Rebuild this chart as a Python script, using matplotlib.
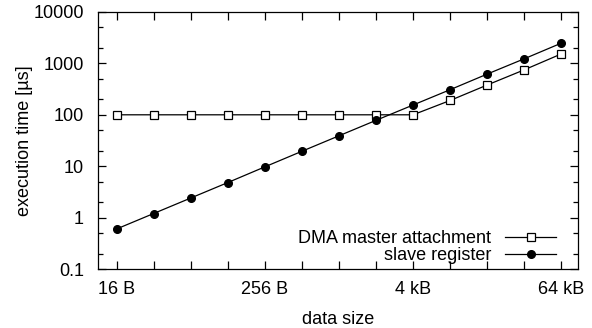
import matplotlib
matplotlib.use("Agg")
import matplotlib.pyplot as plt
import matplotlib.ticker as mticker

plt.rcParams['font.family'] = ['Liberation Sans', 'DejaVu Sans']

# data sizes in bytes
sizes = [16, 32, 64, 128, 256, 512, 1024, 2048, 4096, 8192, 16384, 32768, 65536]
dma = [100, 100, 100, 100, 100, 100, 100, 100, 100, 190, 380, 750, 1530]
slave = [0.6, 1.2, 2.4, 4.8, 9.7, 19.5, 39, 78, 155, 308, 620, 1230, 2480]

xtick_pos = [16, 256, 4096, 65536]
xtick_labels = ['16 B', '256 B', '4 kB', '64 kB']

fig = plt.figure(figsize=(5.92, 3.28), dpi=100)
ax = fig.add_axes([98/592, 1 - 269/328, 480/592, 257/328])

ax.plot(sizes, dma, color='black', lw=0.9, marker='s', ms=5.5,
        mfc='white', mec='black', mew=0.9, label='DMA master attachment')
ax.plot(sizes, slave, color='black', lw=0.9, marker='o', ms=5.5,
        mfc='black', mec='black', label='slave register')

ax.set_xscale('log', base=2)
ax.set_yscale('log')
ax.set_xlim(2**3.5, 2**16.45)
ax.set_ylim(0.1, 10000)

ax.xaxis.set_major_locator(mticker.FixedLocator(xtick_pos))
ax.xaxis.set_major_formatter(mticker.FixedFormatter(xtick_labels))
ax.xaxis.set_minor_locator(mticker.FixedLocator(sizes))
ax.xaxis.set_minor_formatter(mticker.NullFormatter())

ax.yaxis.set_major_locator(mticker.FixedLocator([0.1, 1, 10, 100, 1000, 10000]))
ax.yaxis.set_major_formatter(mticker.FixedFormatter(['0.1', '1', '10', '100', '1000', '10000']))
ax.yaxis.set_minor_locator(mticker.LogLocator(base=10, subs=(2.0, 5.0)))
ax.yaxis.set_minor_formatter(mticker.NullFormatter())

ax.tick_params(which='both', direction='in', top=True, right=True,
               labelsize=13, width=0.9)
ax.tick_params(axis='x', which='both', pad=9)
ax.tick_params(axis='y', which='both', pad=10)
ax.tick_params(which='major', length=6)
ax.tick_params(axis='x', which='minor', length=6)
ax.tick_params(axis='y', which='minor', length=3.5)

for sp in ax.spines.values():
    sp.set_linewidth(0.9)

ax.set_xlabel('data size', fontsize=13, labelpad=9)
ax.set_ylabel('execution time [µs]', fontsize=13)
ax.yaxis.set_label_coords(-0.135, 0.5)

ax.legend(loc='lower right', bbox_to_anchor=(0.954, 0.02), frameon=False,
          markerfirst=False, fontsize=13, handlelength=2.8,
          handletextpad=0.8, labelspacing=0.0, borderpad=0,
          borderaxespad=0)

fig.savefig('out.png', dpi=100)
